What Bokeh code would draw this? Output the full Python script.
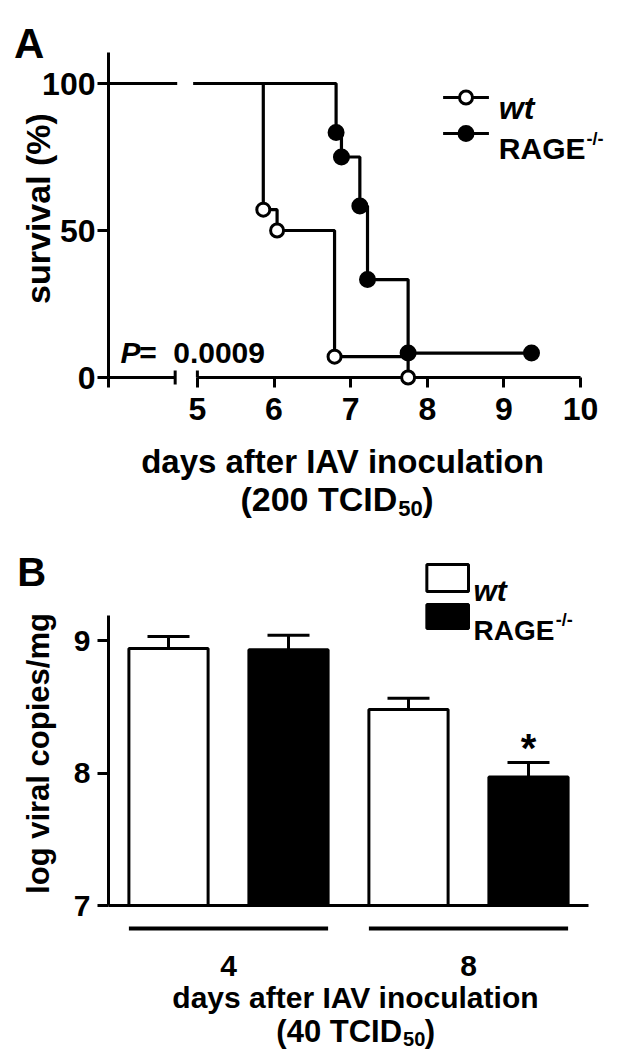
from bokeh.plotting import figure
from bokeh.layouts import column
from bokeh.models import Range1d, FixedTicker
from bokeh.core.properties import value
from bokeh.embed import file_html
from bokeh.resources import INLINE

FONT = "Liberation Sans"

# ---------------- Panel A data (Kaplan-Meier survival) ----------------
wt_days = [5.86, 6.04, 6.79, 7.75]
wt_surv = [57.1, 50.0, 7.1, 0.0]
rage_days = [6.81, 6.88, 7.12, 7.22, 7.75, 9.36]
rage_surv = [83.3, 75.0, 58.3, 33.3, 8.3, 8.3]
a_xticks = [5, 6, 7, 8, 9, 10]
a_yticks = [0, 50, 100]
a_break = [4.71, 5.0]
p_value = "0.0009"

# ---------------- Panel B data (viral load) ----------------
b_days = ["4", "8"]
b_wt = [8.94, 8.48]
b_wt_err = [0.09, 0.085]
b_rage = [8.93, 7.97]
b_rage_err = [0.11, 0.11]
b_yticks = [7, 8, 9]


def txt(p, x, y, text, size, style="bold", align="left", angle=0):
    p.text(x=[x], y=[y], text=[text], text_font=value(FONT), text_font_size=value(size),
           text_font_style=style, text_align=align, text_baseline="alphabetic",
           angle=angle, angle_units="deg", text_color="black", level="overlay")


def style_axis(axis, size, out, standoff):
    axis.axis_line_width = 3
    axis.axis_line_color = "black"
    axis.major_tick_line_width = 3
    axis.major_tick_line_color = "black"
    axis.major_tick_in = 0
    axis.major_tick_out = out
    axis.minor_tick_line_color = None
    axis.major_label_text_font = FONT
    axis.major_label_text_font_style = "bold"
    axis.major_label_text_font_size = size
    axis.major_label_text_color = "black"
    axis.major_label_standoff = standoff


# =============== Panel A ===============
A_X0, A_XPX = 3.84, 76.95       # day at frame left, px per day
A_YPX = 2.94                    # px per %
def ax(px):  # page px -> data x
    return A_X0 + (px - 108) / A_XPX
def ay(py):  # page px -> data y
    return (377 - py) / A_YPX

pA = figure(width=630, height=520, output_backend="svg", toolbar_location=None,
            x_range=Range1d(A_X0, ax(590)), y_range=Range1d(0, ay(52)),
            min_border_left=108, min_border_right=40, min_border_top=52, min_border_bottom=143)
pA.outline_line_color = None
pA.grid.visible = False

style_axis(pA.yaxis, "32px", 11, 2)
pA.yaxis.ticker = FixedTicker(ticks=a_yticks)
style_axis(pA.xaxis, "32px", 10, 10)
pA.xaxis.ticker = FixedTicker(ticks=a_xticks)
pA.xaxis.axis_line_color = None

# broken x axis line
pA.segment(x0=[A_X0, a_break[1]], y0=[0, 0], x1=[a_break[0], a_xticks[-1]], y1=[0, 0],
           line_width=3, line_color="black", level="overlay")
pA.segment(x0=[A_X0, a_break[0], a_break[1]], y0=[ay(387), ay(384), 0],
           x1=[A_X0, a_break[0], a_break[1]], y1=[0, ay(370), ay(370)],
           line_width=3, line_color="black", level="overlay")

# survival step curves
pA.step(x=[0] + wt_days, y=[100] + wt_surv, mode="after", line_width=3.2, line_color="black")
pA.step(x=[0] + rage_days, y=[100] + rage_surv, mode="after", line_width=3.2, line_color="black")
pA.quad(left=[ax(177)], right=[ax(193)], bottom=[97], top=[103],
        fill_color="white", line_color=None, level="overlay")

pA.scatter(wt_days, wt_surv, marker="circle", size=13, fill_color="white",
           line_color="black", line_width=3, level="overlay")
pA.scatter(rage_days, rage_surv, marker="circle", size=15, fill_color="black",
           line_color="black", line_width=2, level="overlay")

# legend A
pA.segment(x0=[ax(444), ax(444)], y0=[ay(97), ay(133)], x1=[ax(490), ax(490)], y1=[ay(97), ay(133)],
           line_width=3, line_color="black", level="overlay")
pA.scatter([ax(467)], [ay(97)], marker="circle", size=13, fill_color="white",
           line_color="black", line_width=3, level="overlay")
pA.scatter([ax(467)], [ay(133)], marker="circle", size=15, fill_color="black",
           line_color="black", line_width=2, level="overlay")
txt(pA, ax(500), ay(107), "wt", "32px", style="bold italic")
txt(pA, ax(500), ay(148), "RAGE", "30px")
txt(pA, ax(588), ay(138), "-/-", "18px")

txt(pA, ax(13), ay(43), "A", "42px")
txt(pA, ax(37), ay(208), "survival (%)", "34px", align="center", angle=90)
txt(pA, ax(343), ay(461), "days after IAV inoculation", "33px", align="center")
txt(pA, ax(398), ay(498), "(200 TCID", "34px", align="right")
txt(pA, ax(399), ay(508), "50", "22px")
txt(pA, ax(423), ay(498), ")", "34px")
txt(pA, ax(120), ay(352), "P", "30px", style="bold italic")
txt(pA, ax(139), ay(352), "=", "30px")
txt(pA, ax(173), ay(352), p_value, "30px")

# =============== Panel B ===============
B_XPX, B_YPX = 121.0, 132.5
def bx(px):
    return (px - 104) / B_XPX
def by(py):  # page px (panel B starts at page y 520)
    return 7 + (905 - py) / B_YPX

pB = figure(width=630, height=530, output_backend="svg", toolbar_location=None,
            x_range=Range1d(0, 4), y_range=Range1d(b_yticks[0], by(615)),
            min_border_left=104, min_border_right=42, min_border_top=95, min_border_bottom=145)
pB.outline_line_color = None
pB.grid.visible = False

style_axis(pB.yaxis, "30px", 11, 7)
pB.yaxis.ticker = FixedTicker(ticks=b_yticks)
style_axis(pB.xaxis, "0px", 0, 0)
pB.xaxis.ticker = FixedTicker(ticks=[])
pB.xaxis.major_tick_line_color = None

n = len(b_days)
x_wt = [2 * i + 0.5 for i in range(n)]
x_rage = [2 * i + 1.5 for i in range(n)]
bw = 0.66
cap = 0.175

pB.vbar(x=x_wt, top=b_wt, bottom=b_yticks[0], width=bw, fill_color="white",
        line_color="black", line_width=3)
pB.vbar(x=x_rage, top=b_rage, bottom=b_yticks[0], width=bw, fill_color="black",
        line_color="black", line_width=3)

for xs, tops, errs in ((x_wt, b_wt, b_wt_err), (x_rage, b_rage, b_rage_err)):
    hi = [t + e for t, e in zip(tops, errs)]
    pB.segment(x0=xs, y0=tops, x1=xs, y1=hi, line_width=3, line_color="black")
    pB.segment(x0=[x - cap for x in xs], y0=hi, x1=[x + cap for x in xs], y1=hi,
               line_width=3, line_color="black")

# significance star above RAGE day 8
txt(pB, x_rage[1], b_rage[1] + b_rage_err[1] + 14 / B_YPX, "*", "40px", align="center")

# group lines and labels
pB.segment(x0=[x - bw / 2 for x in x_wt], y0=[by(928)] * n,
           x1=[x + bw / 2 for x in x_rage], y1=[by(928)] * n,
           line_width=4, line_color="black", level="overlay")
for i, d in enumerate(b_days):
    txt(pB, (x_wt[i] + x_rage[i]) / 2, by(965), d, "30px", align="center")

# legend B
pB.quad(left=[bx(425), bx(425)], right=[bx(467), bx(467)],
        bottom=[by(591), by(628)], top=[by(564), by(604)],
        fill_color=["white", "black"], line_color="black", line_width=3, level="overlay")
txt(pB, bx(472), by(590), "wt", "30px", style="bold italic")
txt(pB, bx(472), by(630), "RAGE", "28px")
txt(pB, bx(555), by(619), "-/-", "18px")

txt(pB, bx(12), by(571), "B", "40px")
txt(pB, bx(33), by(753), "log viral copies/mg", "31px", align="center", angle=90)
txt(pB, bx(353), by(997), "days after IAV inoculation", "30px", align="center")
txt(pB, bx(400), by(1031), "(40 TCID", "31px", align="right")
txt(pB, bx(401), by(1038), "50", "20px")
txt(pB, bx(423), by(1031), ")", "31px")

layout = column(pA, pB)
open("out.html", "w").write(file_html(layout, INLINE))
